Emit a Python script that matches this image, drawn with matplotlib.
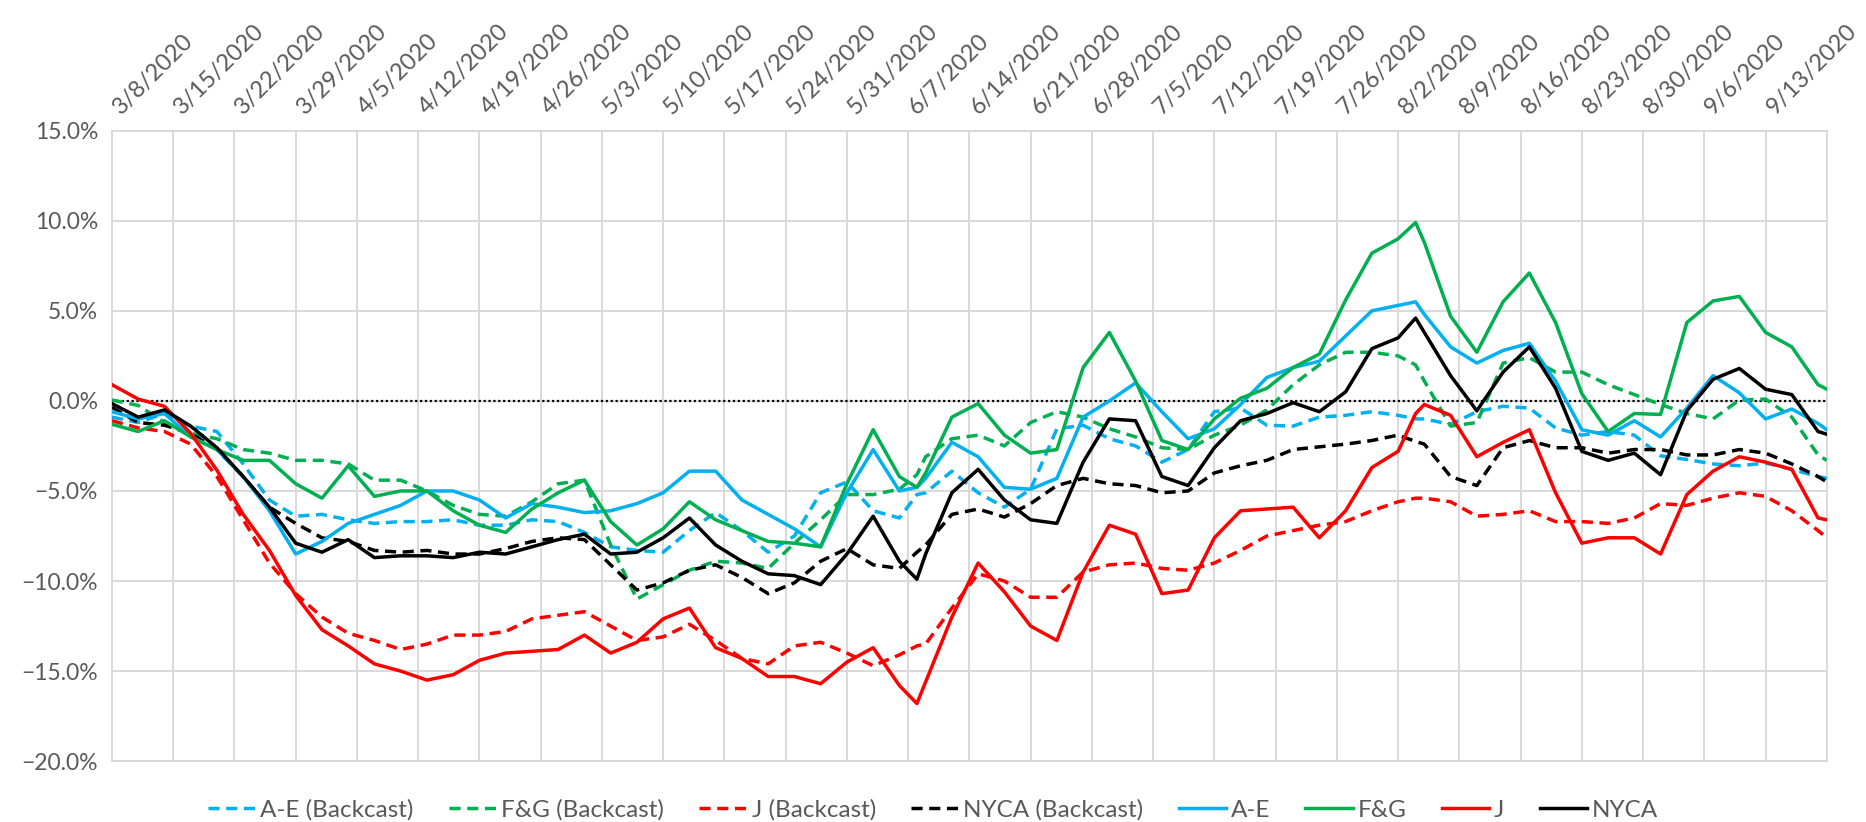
import datetime as dt
import matplotlib
matplotlib.use("Agg")
import matplotlib.pyplot as plt
import matplotlib.ticker as mtick
from matplotlib.transforms import ScaledTranslation

plt.rcParams["font.family"] = ["Lato", "DejaVu Sans"]

start = dt.date(2020, 3, 8)
# day offsets from 3/8/2020 where values were read
days = (list(range(0, 91, 3)) + [92] + list(range(93, 148, 3)) + [149]
        + list(range(150, 196, 3)) + [196])

ae_backcast = [-0.9, -1.2, -0.7, -1.4, -1.7, -3.5, -5.5, -6.4, -6.3, -6.6, -6.8, -6.7, -6.7, -6.6, -6.9, -6.9,
               -6.6, -6.7, -7.3, -8.1, -8.3, -8.4, -7.2, -6.2, -7.2, -8.4, -7.5, -5.1, -4.5, -6.1, -6.5, -5.2, -5.1,
               -3.9, -5.1, -5.9, -4.9, -1.55, -1.35, -2.1, -2.5, -3.4, -2.7, -0.6, -0.4, -1.35, -1.4, -0.9, -0.8,
               -0.6, -0.8, -1.0, -1.0, -1.3, -0.6, -0.3, -0.4, -1.5, -1.9, -1.7, -1.9, -3.05, -3.25, -3.5, -3.6, -3.45,
               -3.8, -4.2, -4.3]
fg_backcast = [0.05, -0.25, -1.2, -1.8, -2.1, -2.7, -2.9, -3.3, -3.3, -3.5, -4.4, -4.4, -5.0, -5.8, -6.3, -6.4,
               -5.6, -4.6, -4.4, -8.0, -11.0, -10.2, -9.4, -8.9, -9.0, -9.3, -7.9, -6.6, -5.2, -5.2, -4.9, -4.1, -3.1,
               -2.1, -1.9, -2.5, -1.2, -0.6, -0.9, -1.55, -2.0, -2.6, -2.7, -1.9, -1.35, -0.5, 0.9, 2.0, 2.7,
               2.7, 2.5, 2.0, 1.1, -1.4, -1.2, 2.1, 2.4, 1.6, 1.6, 0.9, 0.35, -0.2, -0.7, -1.0, 0.05, 0.1,
               -0.9, -3.0, -3.3]
j_backcast = [-1.1, -1.5, -1.7, -2.4, -4.2, -6.6, -9.0, -10.7, -12.0, -12.9, -13.3, -13.8, -13.5, -13.0, -13.0, -12.8,
              -12.1, -11.9, -11.7, -12.5, -13.3, -13.1, -12.4, -13.3, -14.3, -14.6, -13.6, -13.4, -14.0, -14.7, -14.1,
              -13.6, -13.5,
              -11.5, -9.6, -10.0, -10.9, -10.9, -9.5, -9.1, -9.0, -9.3, -9.4, -9.0, -8.3, -7.5, -7.2, -6.9, -6.7,
              -6.1, -5.6, -5.4, -5.4, -5.6, -6.4, -6.3, -6.1, -6.7, -6.7, -6.8, -6.5, -5.7, -5.8, -5.4, -5.1, -5.3,
              -6.1, -7.2, -7.6]
nyca_backcast = [-0.35, -1.2, -1.35, -1.8, -2.7, -4.2, -5.9, -6.8, -7.6, -7.8, -8.3, -8.4, -8.3, -8.5, -8.5, -8.2,
                 -7.8, -7.6, -7.7, -9.1, -10.5, -10.1, -9.4, -9.1, -9.8, -10.7, -10.1, -8.9, -8.2, -9.1, -9.3, -8.4,
                 -8.0,
                 -6.3, -6.0, -6.45, -5.7, -4.7, -4.3, -4.6, -4.7, -5.1, -5.0, -4.0, -3.6, -3.3, -2.7, -2.55, -2.4,
                 -2.2, -1.9, -2.25, -2.4, -4.2, -4.7, -2.6, -2.2, -2.6, -2.6, -2.9, -2.7, -2.7, -3.0, -3.0, -2.7, -2.9,
                 -3.5, -4.2, -4.5]
ae = [-0.6, -1.0, -0.7, -2.0, -2.7, -4.2, -6.1, -8.5, -7.8, -6.8, -6.3, -5.8, -5.0, -5.0, -5.5, -6.5,
      -5.7, -5.9, -6.2, -6.1, -5.7, -5.1, -3.9, -3.9, -5.5, -6.3, -7.1, -8.1, -5.1, -2.7, -5.0, -4.8, -4.3,
      -2.3, -3.1, -4.8, -4.9, -4.3, -0.9, 0.0, 1.0, -0.6, -2.1, -1.55, -0.2, 1.3, 1.85, 2.2, 3.6,
      5.0, 5.3, 5.5, 4.8, 3.0, 2.1, 2.8, 3.2, 1.1, -1.6, -1.9, -1.1, -2.0, -0.4, 1.4, 0.45, -1.0,
      -0.45, -1.25, -1.6]
fg = [-1.3, -1.7, -1.1, -2.0, -2.7, -3.3, -3.3, -4.6, -5.4, -3.6, -5.3, -5.0, -5.0, -6.1, -6.9, -7.3,
      -6.0, -5.1, -4.4, -6.7, -8.0, -7.1, -5.6, -6.6, -7.2, -7.8, -7.9, -8.1, -4.6, -1.6, -4.2, -4.8, -4.0,
      -0.9, -0.15, -1.9, -2.9, -2.7, 1.85, 3.8, 1.1, -2.2, -2.7, -1.0, 0.15, 0.7, 1.85, 2.6, 5.6,
      8.2, 9.0, 9.9, 8.8, 4.7, 2.7, 5.5, 7.1, 4.35, 0.4, -1.7, -0.7, -0.75, 4.35, 5.55, 5.8, 3.8,
      3.0, 0.9, 0.65]
j = [0.9, 0.1, -0.3, -1.8, -3.85, -6.3, -8.3, -10.8, -12.7, -13.6, -14.6, -15.0, -15.5, -15.2, -14.4, -14.0,
     -13.9, -13.8, -13.0, -14.0, -13.4, -12.1, -11.5, -13.7, -14.3, -15.3, -15.3, -15.7, -14.5, -13.7, -15.8, -16.8,
     -15.6,
     -12.0, -9.0, -10.6, -12.5, -13.3, -9.5, -6.9, -7.4, -10.7, -10.5, -7.6, -6.1, -6.0, -5.9, -7.6, -6.1,
     -3.7, -2.8, -0.7, -0.2, -0.8, -3.1, -2.3, -1.6, -5.1, -7.9, -7.6, -7.6, -8.5, -5.2, -3.9, -3.1, -3.4,
     -3.8, -6.5, -6.6]
nyca = [-0.15, -0.9, -0.5, -1.4, -2.6, -4.2, -5.9, -7.9, -8.4, -7.7, -8.7, -8.6, -8.6, -8.7, -8.4, -8.5,
        -8.1, -7.7, -7.4, -8.5, -8.4, -7.6, -6.5, -8.0, -8.9, -9.6, -9.7, -10.2, -8.5, -6.4, -8.9, -9.9, -8.5,
        -5.1, -3.8, -5.5, -6.6, -6.8, -3.4, -1.0, -1.1, -4.2, -4.7, -2.6, -1.1, -0.7, -0.1, -0.6, 0.5,
        2.9, 3.5, 4.6, 3.8, 1.4, -0.55, 1.6, 3.0, 0.7, -2.8, -3.3, -2.9, -4.1, -0.55, 1.2, 1.8, 0.65,
        0.35, -1.7, -1.85]

dates = [start + dt.timedelta(days=d) for d in days]
tick_dates = [start + dt.timedelta(days=7 * k) for k in range(28)]
tick_labels = [f"{d.month}/{d.day}/{d.year}" for d in tick_dates]

blue, green, red, black = "#00B0F0", "#00B050", "#FF0000", "#000000"
series = [
    ("A-E (Backcast)", ae_backcast, blue, "--"),
    ("F&G (Backcast)", fg_backcast, green, "--"),
    ("J (Backcast)", j_backcast, red, "--"),
    ("NYCA (Backcast)", nyca_backcast, black, "--"),
    ("A-E", ae, blue, "-"),
    ("F&G", fg, green, "-"),
    ("J", j, red, "-"),
    ("NYCA", nyca, black, "-"),
]

fig = plt.figure(figsize=(18.66, 8.22), dpi=100)
ax = fig.add_axes([0.060, 0.074, 0.919, 0.767])

ax.axhline(0, color="black", lw=1.6, ls=(0, (1, 1.2)), zorder=2)
for name, vals, col, ls in series:
    line, = ax.plot(dates, [v / 100 for v in vals], color=col, lw=2.5, ls=ls, label=name, zorder=3)
    if ls == "--":
        line.set_dashes((3.2, 1.9))

ax.set_ylim(-0.20, 0.15)
ax.set_yticks([-0.20, -0.15, -0.10, -0.05, 0.0, 0.05, 0.10, 0.15])
ax.yaxis.set_major_formatter(mtick.PercentFormatter(1.0, decimals=1))
ax.set_xlim(start, start + dt.timedelta(days=196))

ax.xaxis.tick_top()
ax.set_xticks(tick_dates)
ax.set_xticklabels(tick_labels, rotation=45, ha="left", va="bottom", rotation_mode="anchor")
ax.tick_params(axis="x", length=0, pad=9, labelsize=17, labelcolor="#595959")
ax.tick_params(axis="y", length=0, pad=10, labelsize=16.5, labelcolor="#595959")
shift = ScaledTranslation(0.12, 0, fig.dpi_scale_trans)
for lbl in ax.get_xticklabels():
    lbl.set_transform(lbl.get_transform() + shift)

ax.grid(True, color="#D9D9D9", lw=1.4, zorder=0)
ax.set_axisbelow(True)
for s in ax.spines.values():
    s.set_color("#D9D9D9")
    s.set_linewidth(1.4)

fig.legend(loc="center", bbox_to_anchor=(0.5, 1 - 810 / 822), ncol=8, frameon=False,
           fontsize=17.5, handlelength=1.95, handletextpad=0.2, columnspacing=1.45,
           labelcolor="#595959")

fig.savefig("out.png", dpi=100)
